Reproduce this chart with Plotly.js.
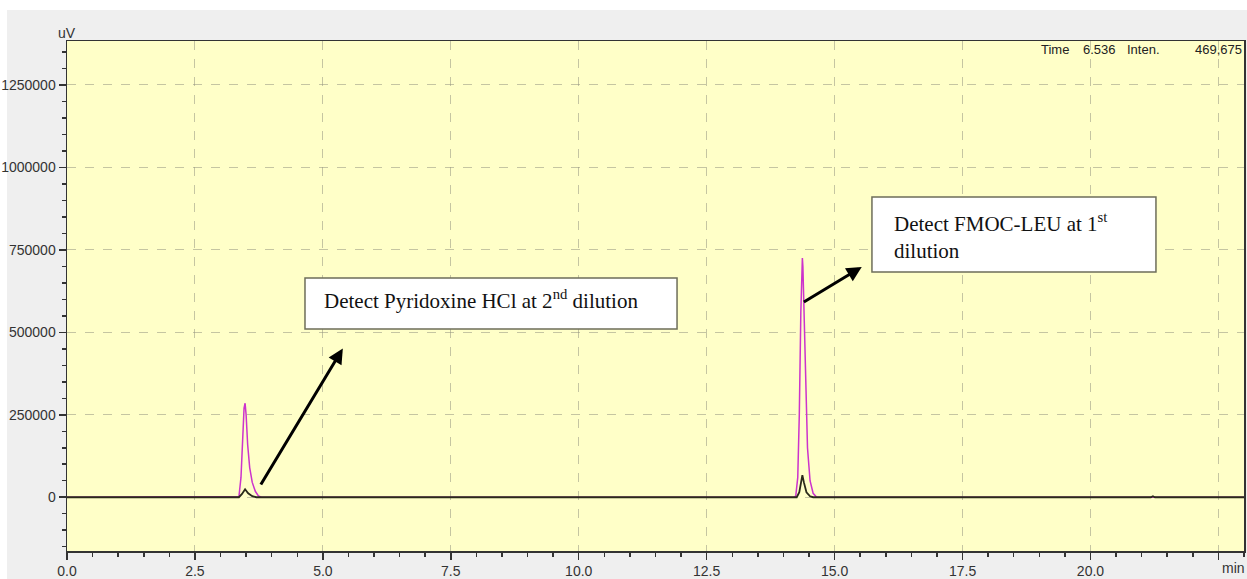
<!DOCTYPE html>
<html>
<head>
<meta charset="utf-8">
<script src="https://cdn.plot.ly/plotly-3.0.1.min.js"></script>
<style>
html,body{margin:0;padding:0;background:#ffffff;}
#chart{width:1247px;height:579px;}
</style>
</head>
<body>
<div id="chart"></div>
<script>
// Retention time (min) and intensity (uV)
const magentaTime = [0, 3.30, 3.36, 3.40, 3.43, 3.46, 3.48, 3.50, 3.53, 3.57, 3.62, 3.68, 3.74, 3.80,
                     14.20, 14.24, 14.28, 14.31, 14.34, 14.36, 14.37, 14.38, 14.40, 14.43, 14.47, 14.52, 14.58, 14.65, 23];
const magentaSignal = [0, 0, 2000, 60000, 180000, 270000, 285000, 250000, 160000, 90000, 45000, 18000, 4000, 0,
                       0, 3000, 60000, 250000, 560000, 710000, 725000, 700000, 560000, 330000, 150000, 50000, 12000, 0, 0];
const blackTime = [0, 3.36, 3.42, 3.48, 3.54, 3.62, 3.70,
                   14.26, 14.31, 14.35, 14.37, 14.40, 14.45, 14.52, 14.58,
                   21.18, 21.22, 21.26, 23];
const blackSignal = [0, 0, 10000, 24000, 12000, 3000, 0,
                     0, 15000, 55000, 67000, 45000, 15000, 3000, 0,
                     0, 3000, 0, 0];
const xTickVals = [0, 2.5, 5, 7.5, 10, 12.5, 15, 17.5, 20, 22.5];
const xTickText = ["0.0", "2.5", "5.0", "7.5", "10.0", "12.5", "15.0", "17.5", "20.0", " "];
const yTickVals = [0, 250000, 500000, 750000, 1000000, 1250000];
const yTickText = ["0", "250000", "500000", "750000", "1000000", "1250000"];
const xRange = [0, 23];
const yRange = [-163000, 1383000];

const tickFont = {family: "Liberation Sans Narrow, Liberation Sans, Arial, sans-serif", size: 14, color: "#333333"};
const serif = {family: "Liberation Serif, Times New Roman, serif", size: 21, color: "#111111"};

const traces = [
  {x: magentaTime, y: magentaSignal, type: "scatter", mode: "lines",
   line: {color: "#cc33cc", width: 1.5}, hoverinfo: "skip"},
  {x: blackTime, y: blackSignal, type: "scatter", mode: "lines",
   line: {color: "#2a2a1a", width: 1.8}, hoverinfo: "skip"}
];

const gridCol = "rgba(150,150,130,0.55)";
const layout = {
  width: 1247, height: 579,
  margin: {l: 67, r: 3, t: 41, b: 28, pad: 0},
  paper_bgcolor: "#efefef",
  plot_bgcolor: "#ffffc8",
  showlegend: false,
  xaxis: {
    range: xRange, tickvals: xTickVals, ticktext: xTickText,
    ticks: "outside", ticklen: 7, tickwidth: 1.5, tickcolor: "#333",
    minor: {dtick: 0.5, tick0: 0, ticks: "outside", ticklen: 4, tickcolor: "#333", showgrid: false},
    showgrid: true, gridcolor: gridCol, griddash: "dash", gridwidth: 1,
    showline: true, linecolor: "#333", linewidth: 1.5, mirror: true,
    zeroline: false, tickfont: tickFont, fixedrange: true
  },
  yaxis: {
    range: yRange, tickvals: yTickVals, ticktext: yTickText,
    ticks: "outside", ticklen: 7, tickwidth: 1.5, tickcolor: "#333",
    minor: {dtick: 50000, tick0: 0, ticks: "outside", ticklen: 4, tickcolor: "#333", showgrid: false},
    showgrid: true, gridcolor: gridCol, griddash: "dash", gridwidth: 1,
    showline: true, linecolor: "#333", linewidth: 1.5, mirror: true,
    zeroline: false, tickfont: tickFont, fixedrange: true
  },
  shapes: [
    {type: "rect", xref: "paper", yref: "paper", x0: -0.07, x1: 1.01, y0: 1.0608, y1: 1.1, fillcolor: "#ffffff", line: {width: 0}, layer: "below"},
    {type: "rect", xref: "paper", yref: "paper", x0: -0.07, x1: -0.0510, y0: -0.06, y1: 1.1, fillcolor: "#ffffff", line: {width: 0}, layer: "below"},
    {type: "rect", xref: "paper", yref: "paper", x0: 0.2022, x1: 0.5183, y0: 0.4353, y1: 0.5353, fillcolor: "#ffffff", line: {color: "#6e6e5a", width: 1.5}},
    {type: "rect", xref: "paper", yref: "paper", x0: 0.6839, x1: 0.9252, y0: 0.5471, y1: 0.6941, fillcolor: "#ffffff", line: {color: "#6e6e5a", width: 1.5}}
  ],
  annotations: [
    {xref: "paper", yref: "paper", x: 0, y: 1, xanchor: "center", yanchor: "bottom", text: "uV", showarrow: false, font: tickFont, yshift: -2},
    {xref: "paper", yref: "paper", x: 0.9907, y: 0, xanchor: "center", yanchor: "top", text: "min", showarrow: false, font: tickFont, yshift: -7},
    {xref: "paper", yref: "paper", x: (1055-67)/1177, y: 0.984, xanchor: "center", yanchor: "middle", text: "Time", showarrow: false, font: {family: tickFont.family, size: 13, color: "#222"}},
    {xref: "paper", yref: "paper", x: (1099-67)/1177, y: 0.984, xanchor: "center", yanchor: "middle", text: "6.536", showarrow: false, font: {family: tickFont.family, size: 13, color: "#222"}},
    {xref: "paper", yref: "paper", x: (1143-67)/1177, y: 0.984, xanchor: "center", yanchor: "middle", text: "Inten.", showarrow: false, font: {family: tickFont.family, size: 13, color: "#222"}},
    {xref: "paper", yref: "paper", x: (1244-67)/1177, y: 0.984, xanchor: "right", yanchor: "middle", text: "469,675", showarrow: false, font: {family: tickFont.family, size: 13, color: "#222"}},
    {xref: "paper", yref: "paper", x: 0.2166, y: 0.4941, xanchor: "left", yanchor: "middle", align: "left", showarrow: false,
     text: "Detect Pyridoxine HCl at 2<sup>nd</sup> dilution", font: serif},
    {xref: "paper", yref: "paper", x: 0.7006, y: (551-223)/510, xanchor: "left", yanchor: "middle", align: "left", showarrow: false,
     text: "Detect FMOC-LEU at 1<sup>st</sup>", font: serif},
    {xref: "paper", yref: "paper", x: 0.7006, y: (551-251)/510, xanchor: "left", yanchor: "middle", align: "left", showarrow: false,
     text: "dilution", font: serif},
    {xref: "x", yref: "y", axref: "x", ayref: "y", x: 5.39, y: 451000, ax: 3.77, ay: 34000, text: "",
     showarrow: true, arrowhead: 2, arrowsize: 1, arrowwidth: 3, arrowcolor: "#000"},
    {xref: "x", yref: "y", axref: "x", ayref: "y", x: 15.53, y: 698000, ax: 14.37, ay: 589000, text: "",
     showarrow: true, arrowhead: 2, arrowsize: 1, arrowwidth: 3, arrowcolor: "#000"}
  ]
};

Plotly.newPlot("chart", traces, layout, {staticPlot: true, displayModeBar: false});
</script>
</body>
</html>
